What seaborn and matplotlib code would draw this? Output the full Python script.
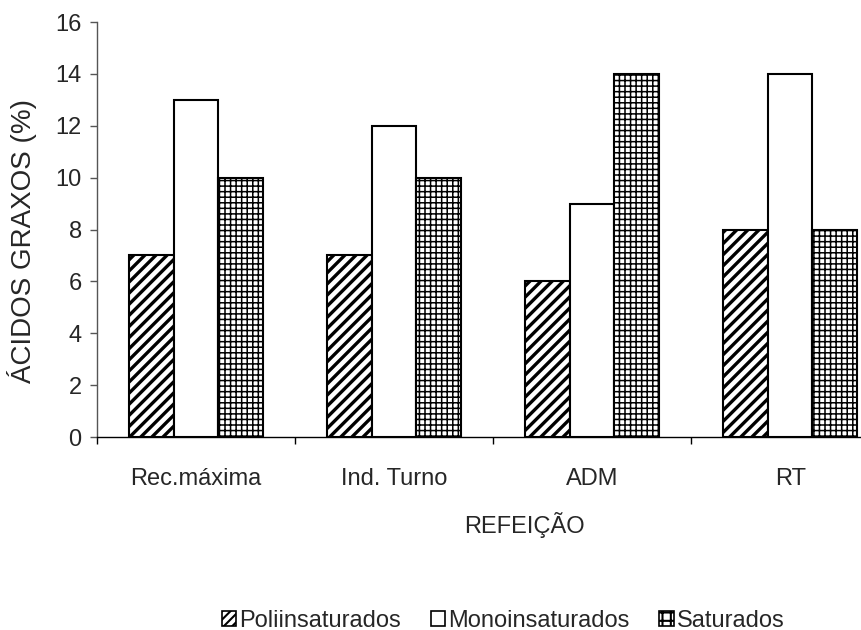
import matplotlib
matplotlib.use("Agg")
import matplotlib.pyplot as plt
import seaborn as sns
import pandas as pd
from matplotlib.patches import Patch

# Meal categories and fatty-acid percentages per type
refeicoes = ["Rec.máxima", "Ind. Turno", "ADM", "RT"]
tipos = ["Poliinsaturados", "Monoinsaturados", "Saturados"]
poliinsaturados = [7, 7, 6, 8]
monoinsaturados = [13, 12, 9, 14]
saturados = [10, 10, 14, 8]
y_ticks = [0, 2, 4, 6, 8, 10, 12, 14, 16]

df = pd.DataFrame({
    "REFEIÇÃO": refeicoes * 3,
    "tipo": [tipos[0]] * 4 + [tipos[1]] * 4 + [tipos[2]] * 4,
    "valor": poliinsaturados + monoinsaturados + saturados,
})

sns.set_theme(style="white")
plt.rcParams["font.family"] = ["Liberation Sans", "DejaVu Sans"]
plt.rcParams["hatch.linewidth"] = 1.5
plt.rcParams["hatch.color"] = "black"

FS = 17

fig = plt.figure(figsize=(8.62, 6.3), dpi=100)
ax = fig.add_axes([0.1125, 0.3063, 0.919, 0.6587])

sns.barplot(data=df, x="REFEIÇÃO", y="valor", hue="tipo", order=refeicoes,
            hue_order=tipos, palette=["white"] * 3, width=0.677,
            edgecolor="black", linewidth=1.5, legend=False, ax=ax)

hatches = ["///", "", "+++"]
hatch_lw = [2.4, 1.0, 1.1]
for cont, h, hl in zip(ax.containers, hatches, hatch_lw):
    for bar in cont:
        bar.set_facecolor("white")
        bar.set_edgecolor("black")
        bar.set_hatch(h)
        if hasattr(bar, "set_hatch_linewidth"):
            bar.set_hatch_linewidth(hl)

ax.set_xlim(-0.5, 3.5)
ax.set_ylim(0, 16)
ax.set_yticks(y_ticks)
ax.set_yticklabels([str(v) for v in y_ticks], fontsize=FS)
ax.set_xticks(range(len(refeicoes)))
ax.set_xticklabels(refeicoes, fontsize=FS)
ax.set_xticks([-0.5, 0.5, 1.5, 2.5], minor=True)
ax.tick_params(axis="x", which="major", length=0, pad=22)
ax.tick_params(axis="x", which="minor", length=5, width=1, color="black",
               direction="out", bottom=True)
ax.tick_params(axis="y", length=5, width=1, color="#555555", direction="out",
               left=True, pad=6)

ax.set_xlabel("REFEIÇÃO", fontsize=FS)
ax.xaxis.set_label_coords(0.539, -0.18)
ax.set_ylabel("ÁCIDOS GRAXOS (%)", fontsize=20)
ax.yaxis.set_label_coords(-0.076, 0.472)

for side in ["top", "right"]:
    ax.spines[side].set_visible(False)
ax.spines["left"].set_color("#555555")
ax.spines["left"].set_linewidth(1)
ax.spines["bottom"].set_color("black")
ax.spines["bottom"].set_linewidth(1)

handles = [Patch(facecolor="white", edgecolor="black", hatch=h, linewidth=1.2)
           for h in ["////", "", "++"]]
fig.legend(handles, tipos, loc="center", bbox_to_anchor=(0.584, 0.015),
           ncol=3, frameon=False, fontsize=FS, handlelength=0.6,
           handleheight=0.6, handletextpad=0.15, columnspacing=1.25,
           borderpad=0)

fig.savefig("out.png", dpi=100)
